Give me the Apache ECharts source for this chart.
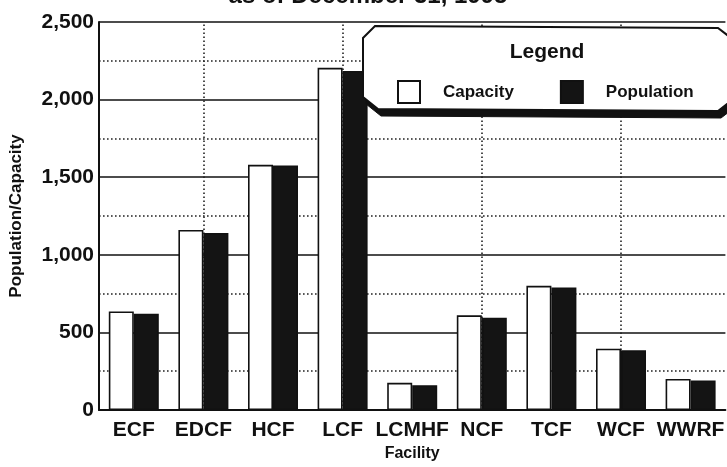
<!DOCTYPE html>
<html>
<head>
<meta charset="utf-8">
<script src="https://cdn.jsdelivr.net/npm/echarts@6/dist/echarts.min.js"></script>
<style>
  html, body { margin: 0; padding: 0; background: #fff; }
  #chart { width: 727px; height: 467px; }
</style>
</head>
<body>
<div id="chart"></div>
<script>
// Facilities and their year-end capacity / population
const facilities = ['ECF', 'EDCF', 'HCF', 'LCF', 'LCMHF', 'NCF', 'TCF', 'WCF', 'WWRF'];
const capacity   = [635, 1160, 1580, 2205, 175, 610, 800, 395, 200];
const population = [620, 1140, 1575, 2185, 160, 595, 790, 385, 190];
// Facilities that get a vertical dotted guide through their centre
const guideFacilities = ['EDCF', 'LCF', 'NCF', 'WCF'];

const FONT = '"Liberation Sans", Arial, Helvetica, sans-serif';
const INK = '#111';

const chart = echarts.init(document.getElementById('chart'), null, { renderer: 'canvas' });

// Chamfered legend panel with a drop shadow
const panel = [[375, 26], [718, 28], [735, 41], [735, 98], [718, 111], [378, 109], [363, 97], [363, 38]];
const panelShadow = panel.map(p => [p[0] + 3, p[1] + 7]);

chart.setOption({
  backgroundColor: '#fff',
  animation: false,
  grid: { left: 97, top: 22, width: 634, height: 391, containLabel: false },
  xAxis: {
    type: 'category',
    data: facilities,
    name: 'Facility',
    nameLocation: 'middle',
    nameGap: 36,
    nameTextStyle: { fontFamily: FONT, fontWeight: 'bold', fontSize: 16, color: INK },
    axisLine: { show: true, lineStyle: { color: INK, width: 2 } },
    axisTick: { show: false },
    axisLabel: { fontFamily: FONT, fontWeight: 'bold', fontSize: 21, color: INK, margin: 10, interval: 0 },
    splitLine: { show: false }
  },
  yAxis: {
    type: 'value',
    min: 0,
    max: 2500,
    interval: 500,
    name: 'Population/Capacity',
    nameLocation: 'middle',
    nameRotate: 90,
    nameGap: 74,
    nameTextStyle: { fontFamily: FONT, fontWeight: 'bold', fontSize: 17, color: INK },
    axisLine: { show: true, lineStyle: { color: INK, width: 2 } },
    axisTick: { show: false },
    axisLabel: {
      fontFamily: FONT, fontWeight: 'bold', fontSize: 21, color: INK, margin: 5,
      formatter: v => v.toLocaleString('en-US')
    },
    splitLine: { show: true, lineStyle: { color: INK, width: 1.6, type: 'solid' } },
    minorTick: { show: false, splitNumber: 2 },
    minorSplitLine: { show: true, lineStyle: { color: '#222', width: 1.6, type: [1.6, 2.4] } }
  },
  legend: {
    data: ['Capacity', 'Population'],
    left: 392,
    top: 75,
    orient: 'horizontal',
    icon: 'rect',
    itemWidth: 22,
    itemHeight: 22,
    itemGap: 46,
    textStyle: { fontFamily: FONT, fontWeight: 'bold', fontSize: 17, color: INK, padding: [0, 0, 0, 18] },
    z: 20
  },
  graphic: [
    {
      type: 'text', z: 10,
      style: {
        text: 'as of December 31, 1995', x: 368, y: 8,
        textAlign: 'center', textVerticalAlign: 'bottom',
        font: 'bold 24px ' + FONT, fill: INK
      }
    },
    {
      type: 'polygon', z: 15, silent: true,
      shape: { points: panelShadow },
      style: { fill: '#111', stroke: '#111', lineWidth: 1 }
    },
    {
      type: 'polygon', z: 16, silent: true,
      shape: { points: panel },
      style: { fill: '#fff', stroke: '#111', lineWidth: 2 }
    },
    {
      type: 'text', z: 17, silent: true,
      style: {
        text: 'Legend', x: 547, y: 52,
        textAlign: 'center', textVerticalAlign: 'middle',
        font: 'bold 21px ' + FONT, fill: INK
      }
    }
  ],
  series: [
    {
      // vertical dotted guides, kept underneath the bars
      name: 'guides',
      type: 'line',
      data: [],
      z: 1,
      silent: true,
      markLine: {
        z: 1,
        silent: true,
        symbol: ['none', 'none'],
        label: { show: false },
        lineStyle: { color: '#222', width: 1.6, type: [1.6, 2.4] },
        data: guideFacilities.map(f => ({ xAxis: f }))
      }
    },
    {
      name: 'Capacity',
      type: 'bar',
      data: capacity,
      barWidth: 25,
      barGap: '0%',
      z: 6,
      itemStyle: { color: '#fff', borderColor: INK, borderWidth: 1.6 }
    },
    {
      name: 'Population',
      type: 'bar',
      data: population,
      barWidth: 25,
      z: 6,
      itemStyle: { color: '#141414', borderColor: INK, borderWidth: 1.6 }
    }
  ]
});
</script>
</body>
</html>
